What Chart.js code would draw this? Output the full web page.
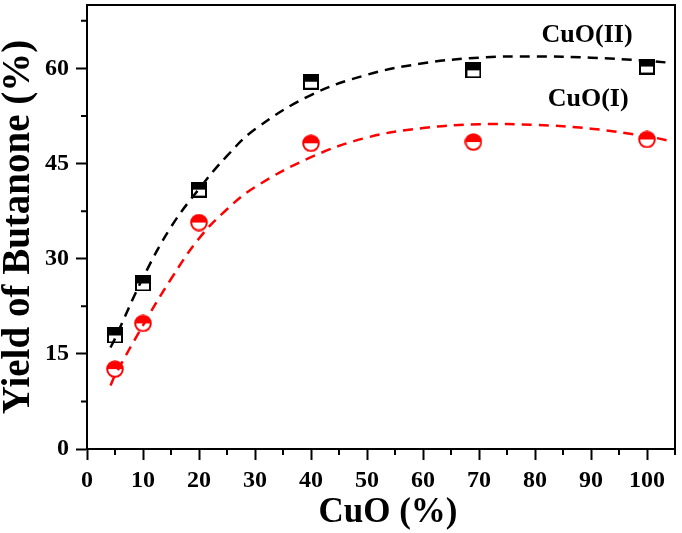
<!DOCTYPE html>
<html>
<head>
<meta charset="utf-8">
<script src="https://cdn.jsdelivr.net/npm/chart.js@4/dist/chart.umd.min.js"></script>
<style>
  html, body { margin: 0; padding: 0; background: #fff; }
  #wrap { width: 682px; height: 533px; }
  #probe { position: absolute; left: -999px; font: bold 24px "Liberation Serif"; }
</style>
</head>
<body>
<div id="wrap"><canvas id="c" width="682" height="533"></canvas></div>
<span id="probe">CuO 0123456789</span>
<script>
// measured points
const cuo      = [5, 10, 20, 40, 69, 100];
const yieldII  = [17.9, 26.1, 40.9, 57.9, 59.7, 60.3];
const yieldI   = [12.6, 19.8, 35.7, 48.2, 48.4, 48.8];

// dashed fit curves
const fitX  = [4.2, 5, 10, 15, 20, 25, 30, 40, 50, 60, 70, 80, 90, 100, 104];
const fitII = [16.0, 17.4, 27.0, 35.0, 41.0, 46.2, 50.4, 55.8, 59.0, 60.8, 61.7, 61.9, 61.7, 61.2, 60.9];
const fitI  = [10.0, 11.6, 19.5, 26.8, 33.2, 37.8, 41.3, 46.0, 49.1, 50.6, 51.2, 51.1, 50.5, 49.3, 48.6];

const xTicks = [0, 10, 20, 30, 40, 50, 60, 70, 80, 90, 100];
const yTicks = [0, 15, 30, 45, 60];
const xMinor = [5, 15, 25, 35, 45, 55, 65, 75, 85, 95, 105];
const yMinor = [7.5, 22.5, 37.5, 52.5, 67.5];

const FONT = '"Liberation Serif"';

// half filled markers
function halfSquare(size, color) {
  const c = document.createElement('canvas');
  c.width = c.height = size;
  const g = c.getContext('2d');
  g.fillStyle = '#fff'; g.fillRect(0, 0, size, size);
  g.fillStyle = color; g.fillRect(0, 0, size, size / 2);
  g.strokeStyle = color; g.lineWidth = 2;
  g.strokeRect(1, 1, size - 2, size - 2);
  return c;
}
function halfCircle(size, color) {
  const c = document.createElement('canvas');
  c.width = c.height = size;
  const g = c.getContext('2d');
  const r = size / 2;
  g.beginPath(); g.arc(r, r, r - 1, 0, Math.PI * 2); g.fillStyle = '#fff'; g.fill();
  g.beginPath(); g.arc(r, r, r - 1, Math.PI, Math.PI * 2); g.closePath(); g.fillStyle = color; g.fill();
  g.beginPath(); g.arc(r, r, r - 1.2, 0, Math.PI * 2); g.strokeStyle = color; g.lineWidth = 2; g.stroke();
  return c;
}

const pts = (xs, ys) => xs.map((x, i) => ({ x, y: ys[i] }));

// frame, minor ticks, labels, axis titles
const decoPlugin = {
  id: 'deco',
  afterDraw(chart) {
    const { ctx, chartArea: a, scales: { x, y } } = chart;
    ctx.save();
    ctx.strokeStyle = '#000';
    ctx.lineWidth = 2;
    ctx.strokeRect(a.left, a.top, a.right - a.left, a.bottom - a.top);
    ctx.beginPath();
    xMinor.forEach(v => {
      const px = x.getPixelForValue(v);
      ctx.moveTo(px, a.bottom); ctx.lineTo(px, a.bottom + 6);
    });
    yMinor.forEach(v => {
      const py = y.getPixelForValue(v);
      ctx.moveTo(a.left, py); ctx.lineTo(a.left - 6, py);
    });
    ctx.stroke();

    ctx.fillStyle = '#000';
    ctx.textAlign = 'center';
    ctx.textBaseline = 'middle';
    ctx.font = 'bold 26px ' + FONT;
    ctx.fillText('CuO(II)', x.getPixelForValue(89.3), y.getPixelForValue(65.3));
    ctx.fillText('CuO(I)', x.getPixelForValue(89.5), y.getPixelForValue(55.1));

    ctx.font = 'bold 35px ' + FONT;
    ctx.fillText('CuO (%)', 388, 513);
    ctx.font = 'bold 39px ' + FONT;
    ctx.translate(19, 227);
    ctx.rotate(-Math.PI / 2);
    ctx.fillText('Yield of Butanone (%)', 0, 0);
    ctx.restore();
  }
};

const axisCommon = {
  type: 'linear',
  border: { display: true, color: '#000', width: 2 },
  grid: { drawOnChartArea: false, drawTicks: true, tickLength: 11, tickWidth: 2, tickColor: '#000' },
  ticks: { color: '#000', font: { family: FONT, size: 24, weight: 'bold' } },
};

function draw() {
  new Chart(document.getElementById('c'), {
    type: 'scatter',
    plugins: [decoPlugin],
    data: {
      datasets: [
        {
          type: 'line', label: 'fit II', data: pts(fitX, fitII),
          borderColor: '#000', borderWidth: 2.5, borderDash: [10, 7],
          pointRadius: 0, tension: 0.4, fill: false,
        },
        {
          type: 'line', label: 'fit I', data: pts(fitX, fitI),
          borderColor: '#f00', borderWidth: 2.5, borderDash: [10, 7],
          pointRadius: 0, tension: 0.4, fill: false,
        },
        {
          label: 'CuO(II)', data: pts(cuo, yieldII),
          pointStyle: halfSquare(16, '#000'), pointRadius: 8,
        },
        {
          label: 'CuO(I)', data: pts(cuo, yieldI),
          pointStyle: halfCircle(18, '#f00'), pointRadius: 9,
        },
      ],
    },
    options: {
      responsive: false,
      animation: false,
      layout: { autoPadding: false, padding: { left: 0, top: 5, right: 7, bottom: 0 } },
      plugins: { legend: { display: false }, tooltip: { enabled: false } },
      scales: {
        x: {
          ...axisCommon,
          min: 0, max: 105,
          ticks: { ...axisCommon.ticks, padding: 6 },
          afterBuildTicks: s => { s.ticks = xTicks.map(v => ({ value: v })); },
          afterFit: s => { s.height = 84; s.paddingLeft = 0; s.paddingRight = 0; },
        },
        y: {
          ...axisCommon,
          min: 0, max: 70,
          ticks: { ...axisCommon.ticks, padding: 7 },
          afterBuildTicks: s => { s.ticks = yTicks.map(v => ({ value: v })); },
          afterFit: s => { s.width = 87; s.paddingTop = 0; s.paddingBottom = 0; },
        },
      },
    },
  });
}

document.fonts.load('bold 24px "Liberation Serif"').then(draw, draw);
</script>
</body>
</html>
